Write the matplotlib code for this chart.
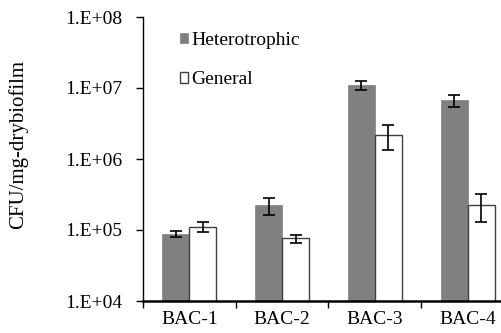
import matplotlib
matplotlib.use("Agg")
import matplotlib.pyplot as plt
import numpy as np
from matplotlib.ticker import FixedLocator, FuncFormatter, NullLocator

categories = ["BAC-1", "BAC-2", "BAC-3", "BAC-4"]
hetero = [8.8e4, 2.23e5, 1.10e7, 6.7e6]
hetero_err = [0.9e4, 5.9e4, 1.5e6, 1.3e6]
general = [1.11e5, 7.6e4, 2.16e6, 2.27e5]
general_err = [1.8e4, 1.0e4, 8.4e5, 9.6e4]
yticks = [1e4, 1e5, 1e6, 1e7, 1e8]
ytick_labels = ["1.E+04", "1.E+05", "1.E+06", "1.E+07", "1.E+08"]

plt.rcParams['font.family'] = ['Liberation Serif', 'DejaVu Serif']
fs = 14

fig = plt.figure(figsize=(5.02, 3.33), dpi=100)
ax = fig.add_axes([143/502, 32/333, (514-143)/502, (301-17)/333])

x = np.arange(len(categories)) + 0.5
w = 0.29
ax.bar(x - w/2, hetero, width=w, color="#808080", edgecolor="#808080", linewidth=0.5,
       label="Heterotrophic", zorder=2)
ax.bar(x + w/2, general, width=w, color="white", edgecolor="#404040", linewidth=1.0,
       label="General", zorder=2)
ax.errorbar(x - w/2, hetero, yerr=hetero_err, fmt="none", ecolor="black",
            elinewidth=1.2, capsize=4, capthick=1.2, zorder=3)
ax.errorbar(x + w/2, general, yerr=general_err, fmt="none", ecolor="black",
            elinewidth=1.2, capsize=4, capthick=1.2, zorder=3)

ax.set_yscale("log")
ax.set_ylim(1e4, 1e8)
ax.set_xlim(0, 4)
ax.yaxis.set_major_locator(FixedLocator(yticks))
ax.yaxis.set_major_formatter(FuncFormatter(lambda v, p: ytick_labels[yticks.index(v)] if v in yticks else ""))
ax.yaxis.set_minor_locator(NullLocator())

ax.set_xticks(np.arange(0, 5))
ax.set_xticklabels([])
ax.set_xticks(x, minor=True)
ax.set_xticklabels(categories, minor=True, fontsize=fs)
ax.tick_params(axis="x", which="major", direction="out", length=5, width=1)
ax.tick_params(axis="x", which="minor", length=0, pad=7)
ax.tick_params(axis="y", which="major", direction="out", length=5, width=1,
               labelsize=fs, pad=10)

for s in ["top", "right"]:
    ax.spines[s].set_visible(False)
ax.spines["left"].set_linewidth(1.0)
ax.spines["bottom"].set_linewidth(1.8)

fig.text(18/502, (333-144.5)/333, "CFU/mg-drybiofilm", fontsize=15, rotation=90,
         ha="center", va="center")

leg = ax.legend(loc="upper left", bbox_to_anchor=(0.078, 0.975), frameon=False,
                fontsize=fs, handlelength=0.45, handleheight=0.45, handletextpad=0.15,
                labelspacing=1.15, borderaxespad=0)

fig.savefig("out.png", dpi=100)
